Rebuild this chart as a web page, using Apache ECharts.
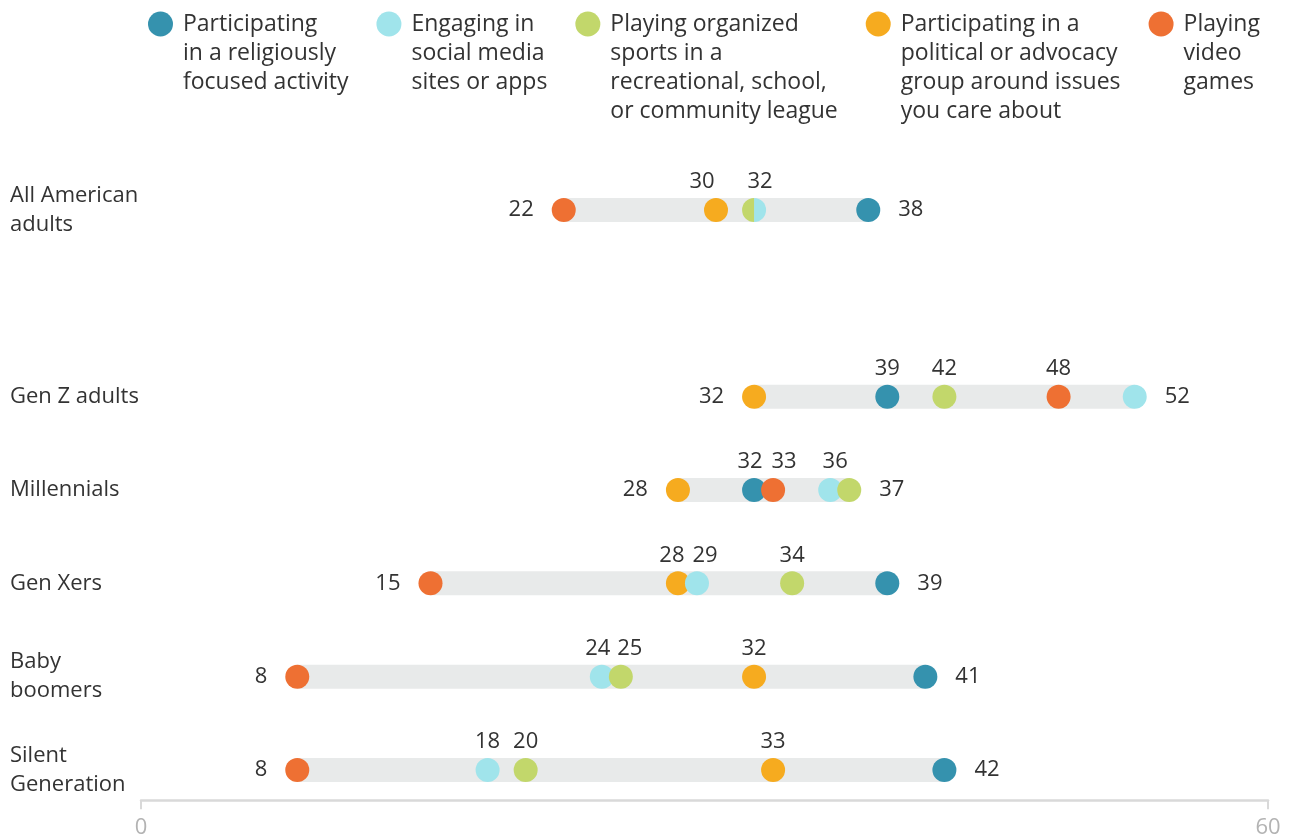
<!DOCTYPE html>
<html>
<head>
<meta charset="utf-8">
<script src="https://cdn.jsdelivr.net/npm/echarts@6/dist/echarts.min.js"></script>
<style>
html, body { margin: 0; padding: 0; background: #fff; }
#chart { width: 1294px; height: 836px; }
</style>
</head>
<body>
<div id="chart"></div>
<script>
// rows of the chart, the empty one is the gap under "All American adults"
var groups = ['All American\nadults', '', 'Gen Z adults', 'Millennials', 'Gen Xers', 'Baby\nboomers', 'Silent\nGeneration'];
// % per activity, same order as groups
var religious = [38, null, 39, 32, 39, 41, 42];
var socialMedia = [32, null, 52, 36, 29, 24, 18];
var sports = [32, null, 42, 37, 34, 25, 20];
var political = [30, null, 32, 28, 28, 32, 33];
var videoGames = [22, null, 48, 33, 15, 8, 8];
var axisMin = 0;
var axisMax = 60;

var FONT = 'Open Sans';
var TEXT = '#333';
var LINE_H = 29;

var activities = [
    {name: 'Participating\nin a religiously\nfocused activity', values: religious, color: '#3592ae', z: 3},
    {name: 'Engaging in\nsocial media\nsites or apps', values: socialMedia, color: '#a0e4eb', z: 5},
    {name: 'Playing organized\nsports in a\nrecreational, school,\nor community league', values: sports, color: '#c2d76b', z: 6},
    {name: 'Participating in a\npolitical or advocacy\ngroup around issues\nyou care about', values: political, color: '#f6ab1f', z: 4},
    {name: 'Playing\nvideo\ngames', values: videoGames, color: '#ee7033', z: 7}
];

// small sideways nudges of labels that sit close together ("row,activity": px)
var labelNudge = {
    '0,3': -14,
    '3,0': -4, '3,4': 11, '3,1': 5,
    '4,3': -6, '4,1': 8,
    '5,1': -4, '5,2': 9
};
// tied dots drawn as two halves ("row,activity": side)
var halfDot = {'0,2': 'left', '0,1': 'right'};
var hiddenLabel = {'0,2': true};

var ranges = [];
for (var r = 0; r < groups.length; r++) {
    var vals = [];
    activities.forEach(function (a) { if (a.values[r] != null) vals.push(a.values[r]); });
    if (!vals.length) continue;
    ranges.push([Math.min.apply(null, vals), Math.max.apply(null, vals), r]);
}
function rowRange(r) {
    for (var i = 0; i < ranges.length; i++) if (ranges[i][2] === r) return ranges[i];
    return null;
}

var series = [{
    type: 'custom',
    xAxisIndex: 0,
    yAxisIndex: 0,
    z: 1,
    encode: {x: [0, 1], y: 2},
    data: ranges,
    renderItem: function (params, api) {
        var a = api.coord([api.value(0), api.value(2)]);
        var b = api.coord([api.value(1), api.value(2)]);
        return {
            type: 'rect',
            shape: {x: a[0], y: a[1] - 12, width: b[0] - a[0], height: 24},
            style: {fill: '#e8eaea'}
        };
    }
}];

activities.forEach(function (a, ai) {
    var data = [];
    a.values.forEach(function (v, r) {
        if (v == null) return;
        var rg = rowRange(r);
        var key = r + ',' + ai;
        var pos = v === rg[0] ? 'left' : (v === rg[1] ? 'right' : 'top');
        var item = {
            value: [v, r],
            label: {
                show: !hiddenLabel[key],
                position: pos,
                distance: pos === 'top' ? 5 : 18,
                offset: [labelNudge[key] || 0, 0]
            }
        };
        if (halfDot[key] === 'left') {
            item.symbol = 'path://M12,0 A12,12 0 0,0 12,24 Z';
            item.symbolKeepAspect = true;
            item.symbolOffset = [-6, 0];
        } else if (halfDot[key] === 'right') {
            item.symbol = 'path://M0,0 A12,12 0 0,1 0,24 Z';
            item.symbolKeepAspect = true;
            item.symbolOffset = [6, 0];
        }
        data.push(item);
    });
    series.push({
        name: a.name,
        type: 'scatter',
        xAxisIndex: 0,
        yAxisIndex: 0,
        z: a.z,
        symbol: 'circle',
        symbolSize: 24,
        itemStyle: {color: a.color, opacity: 1},
        label: {
            fontFamily: FONT,
            fontSize: 22,
            color: TEXT,
            formatter: function (p) { return p.value[0]; }
        },
        emphasis: {disabled: true},
        data: data
    });
});

// legend text hangs from the icon: blank lines on top keep the first line level with it
function hangText(name) {
    var n = name.split('\n').length;
    var s = name;
    for (var i = 1; i < n; i++) s = ' \n' + s;
    return s;
}

var myChart = echarts.init(document.getElementById('chart'));
var option = {
    animation: false,
    backgroundColor: '#fff',
    textStyle: {fontFamily: FONT},
    legend: {
        left: 148,
        top: -77.5,
        padding: 0,
        itemGap: 28,
        itemWidth: 25,
        itemHeight: 25,
        icon: 'circle',
        selectedMode: false,
        formatter: hangText,
        textStyle: {fontFamily: FONT, fontSize: 23, lineHeight: LINE_H, color: TEXT, padding: [0, 0, 0, 5]},
        data: activities.map(function (a) { return a.name; })
    },
    grid: [
        {left: 145, right: 7, top: 210, height: 560},
        {left: 141, right: 26, top: 800, height: 1}
    ],
    xAxis: [
        {gridIndex: 0, type: 'value', min: axisMin, max: axisMax, show: false},
        {
            gridIndex: 1, type: 'value', min: axisMin, max: axisMax, interval: axisMax - axisMin,
            axisLine: {show: true, lineStyle: {color: '#d9d9d9', width: 2.5}},
            axisTick: {show: true, length: 9, lineStyle: {color: '#d9d9d9', width: 2}},
            axisLabel: {fontFamily: FONT, fontSize: 22, color: '#b3b3b3', margin: 16},
            splitLine: {show: false}
        }
    ],
    yAxis: [
        {
            gridIndex: 0, type: 'category', data: groups, inverse: true, boundaryGap: false,
            axisLine: {show: false}, axisTick: {show: false}, splitLine: {show: false},
            axisLabel: {
                align: 'left', margin: 135, fontFamily: FONT, fontSize: 22,
                lineHeight: LINE_H, color: TEXT, interval: 0
            }
        },
        {gridIndex: 1, type: 'value', show: false}
    ],
    series: series
};
myChart.setOption(option);
</script>
</body>
</html>
